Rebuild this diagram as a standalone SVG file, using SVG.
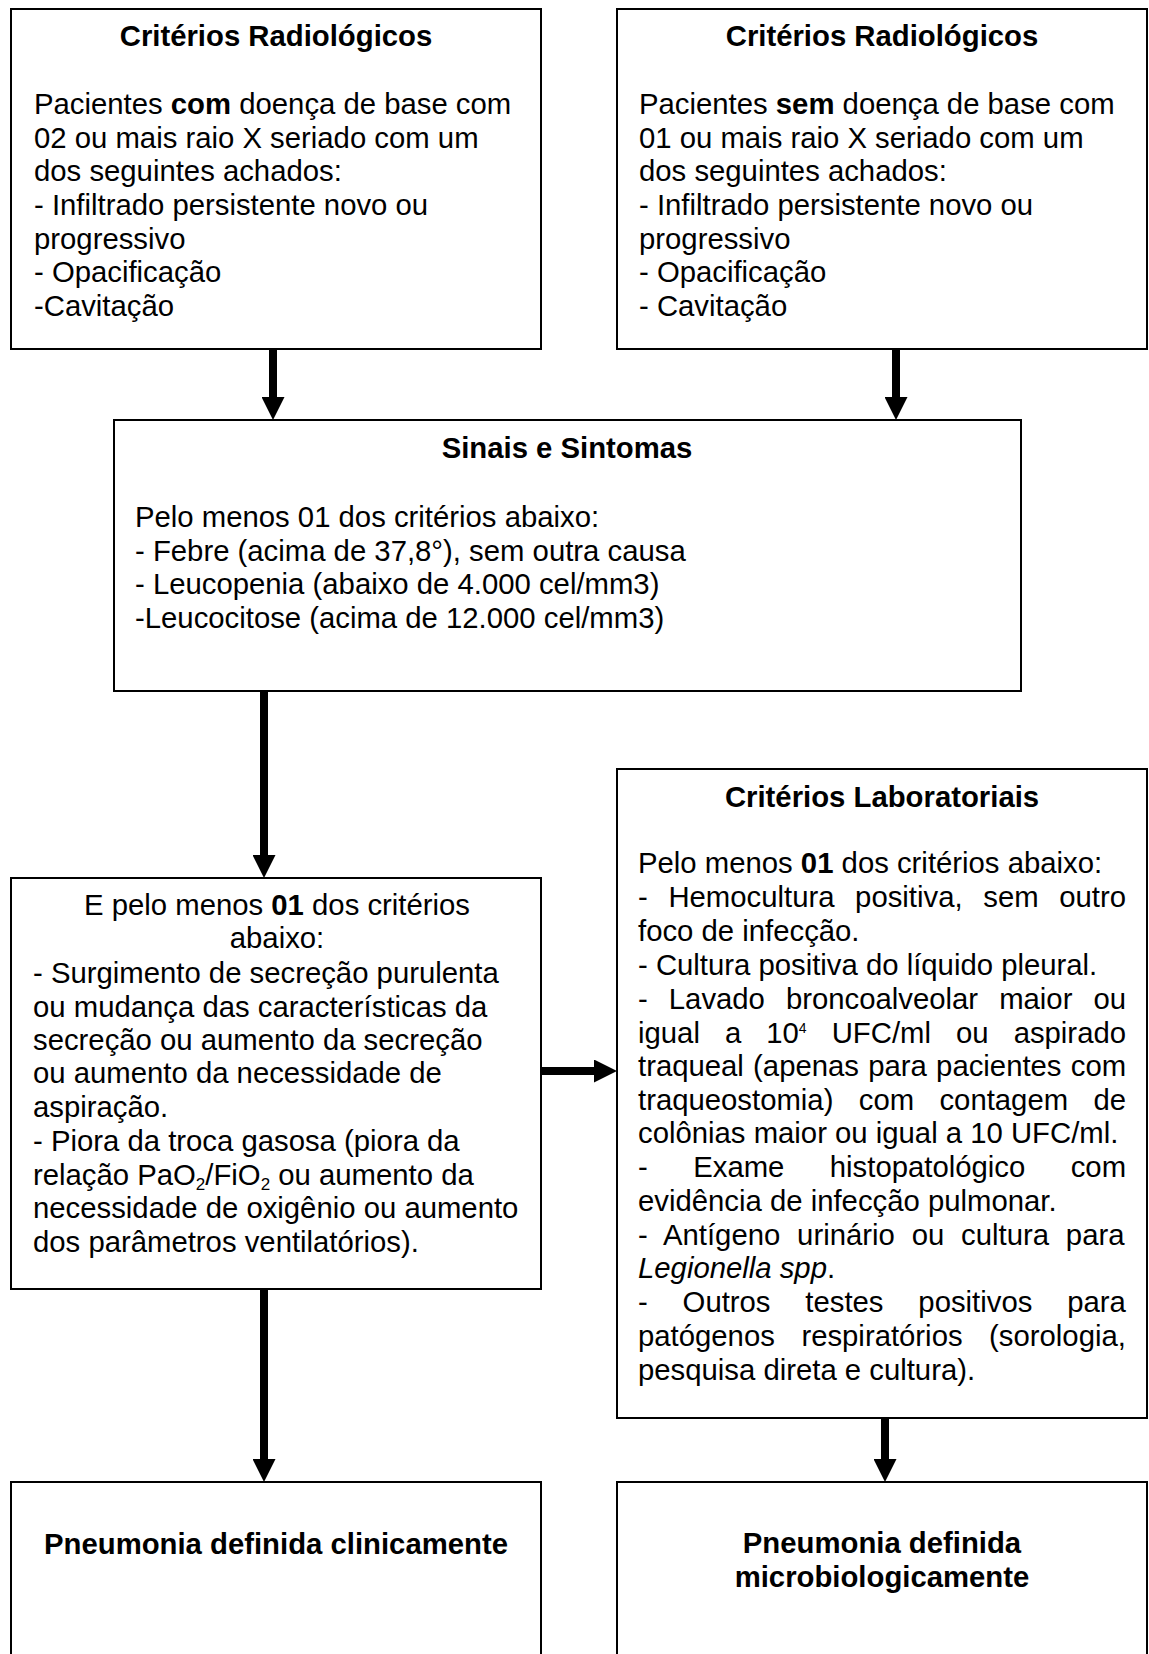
<svg xmlns="http://www.w3.org/2000/svg" width="1149" height="1654" viewBox="0 0 1149 1654">
<style>
text{font-family:"Liberation Sans",Arial,sans-serif;font-size:29.3px;fill:#000}
.b{font-weight:bold}
.c{text-anchor:middle}
.i{font-style:italic}
.box{fill:#fff;stroke:#000;stroke-width:2}
.arr{stroke:#000;stroke-width:8;fill:none}
.sm{font-size:17px}
.sup{font-size:14px}
</style>
<defs>
<marker id="ah" viewBox="0 0 23 23" markerWidth="23" markerHeight="23" markerUnits="userSpaceOnUse" refX="0" refY="11.5" orient="auto">
<path d="M0,0 L23,11.5 L0,23 Z" fill="#000"/>
</marker>
</defs>
<rect width="1149" height="1654" fill="#fff"/>

<g id="connectors">
<line class="arr" x1="273" y1="349" x2="273" y2="397" marker-end="url(#ah)"/>
<line class="arr" x1="896" y1="349" x2="896" y2="397" marker-end="url(#ah)"/>
<line class="arr" x1="264" y1="691" x2="264" y2="855" marker-end="url(#ah)"/>
<line class="arr" x1="541" y1="1071" x2="594" y2="1071" marker-end="url(#ah)"/>
<line class="arr" x1="264" y1="1289" x2="264" y2="1459" marker-end="url(#ah)"/>
<line class="arr" x1="885" y1="1418" x2="885" y2="1459" marker-end="url(#ah)"/>
</g>

<g id="radio-com">
<rect class="box" x="11" y="9" width="530" height="340"/>
<text class="b c" x="276" y="46">Critérios Radiológicos</text>
<text x="34" y="114">Pacientes <tspan class="b">com</tspan> doença de base com</text>
<text x="34" y="148">02 ou mais raio X seriado com um</text>
<text x="34" y="181">dos seguintes achados:</text>
<text x="34" y="215">- Infiltrado persistente novo ou</text>
<text x="34" y="249">progressivo</text>
<text x="34" y="282">- Opacificação</text>
<text x="34" y="316">-Cavitação</text>
</g>

<g id="radio-sem">
<rect class="box" x="617" y="9" width="530" height="340"/>
<text class="b c" x="882" y="46">Critérios Radiológicos</text>
<text x="639" y="114">Pacientes <tspan class="b">sem</tspan> doença de base com</text>
<text x="639" y="148">01 ou mais raio X seriado com um</text>
<text x="639" y="181">dos seguintes achados:</text>
<text x="639" y="215">- Infiltrado persistente novo ou</text>
<text x="639" y="249">progressivo</text>
<text x="639" y="282">- Opacificação</text>
<text x="639" y="316">- Cavitação</text>
</g>

<g id="sinais">
<rect class="box" x="114" y="420" width="907" height="271"/>
<text class="b c" x="567" y="458">Sinais e Sintomas</text>
<text x="135" y="527">Pelo menos 01 dos critérios abaixo:</text>
<text x="135" y="561">- Febre (acima de 37,8°), sem outra causa</text>
<text x="135" y="594">- Leucopenia (abaixo de 4.000 cel/mm3)</text>
<text x="135" y="628">-Leucocitose (acima de 12.000 cel/mm3)</text>
</g>

<g id="clinicos">
<rect class="box" x="11" y="878" width="530" height="411"/>
<text class="c" x="277" y="915">E pelo menos <tspan class="b">01</tspan> dos critérios</text>
<text class="c" x="277" y="948">abaixo:</text>
<text x="33" y="983">- Surgimento de secreção purulenta</text>
<text x="33" y="1017">ou mudança das características da</text>
<text x="33" y="1050">secreção ou aumento da secreção</text>
<text x="33" y="1083">ou aumento da necessidade de</text>
<text x="33" y="1117">aspiração.</text>
<text x="33" y="1151">- Piora da troca gasosa (piora da</text>
<text x="33" y="1185">relação PaO<tspan class="sm" dy="5">2</tspan><tspan dy="-5">/FiO</tspan><tspan class="sm" dy="5">2</tspan><tspan dy="-5"> ou aumento da</tspan></text>
<text x="33" y="1218">necessidade de oxigênio ou aumento</text>
<text x="33" y="1252">dos parâmetros ventilatórios).</text>
</g>

<g id="laboratoriais">
<rect class="box" x="617" y="769" width="530" height="649"/>
<text class="b c" x="882" y="807">Critérios Laboratoriais</text>
<text x="638" y="873">Pelo menos <tspan class="b">01</tspan> dos critérios abaixo:</text>
<text x="638" y="907" word-spacing="12.5">- Hemocultura positiva, sem outro</text>
<text x="638" y="941">foco de infecção.</text>
<text x="638" y="975">- Cultura positiva do líquido pleural.</text>
<text x="638" y="1009" word-spacing="12.9">- Lavado broncoalveolar maior ou</text>
<text x="638" y="1043" word-spacing="16.9">igual a 10<tspan class="sup" dy="-10">4</tspan><tspan dy="10"> UFC/ml ou aspirado</tspan></text>
<text x="638" y="1076" word-spacing="1.1">traqueal (apenas para pacientes com</text>
<text x="638" y="1110" word-spacing="17.2">traqueostomia) com contagem de</text>
<text x="638" y="1143">colônias maior ou igual a 10 UFC/ml.</text>
<text x="638" y="1177" word-spacing="37.3">- Exame histopatológico com</text>
<text x="638" y="1211">evidência de infecção pulmonar.</text>
<text x="638" y="1245" word-spacing="8.7">- Antígeno urinário ou cultura para</text>
<text x="638" y="1278"><tspan class="i">Legionella spp</tspan>.</text>
<text x="638" y="1312" word-spacing="26.7">- Outros testes positivos para</text>
<text x="638" y="1346" word-spacing="18.4">patógenos respiratórios (sorologia,</text>
<text x="638" y="1380">pesquisa direta e cultura).</text>
</g>

<g id="clinicamente">
<rect class="box" x="11" y="1482" width="530" height="200"/>
<text class="b c" x="276" y="1554">Pneumonia definida clinicamente</text>
</g>

<g id="microbiologicamente">
<rect class="box" x="617" y="1482" width="530" height="200"/>
<text class="b c" x="882" y="1553">Pneumonia definida</text>
<text class="b c" x="882" y="1587">microbiologicamente</text>
</g>
</svg>
